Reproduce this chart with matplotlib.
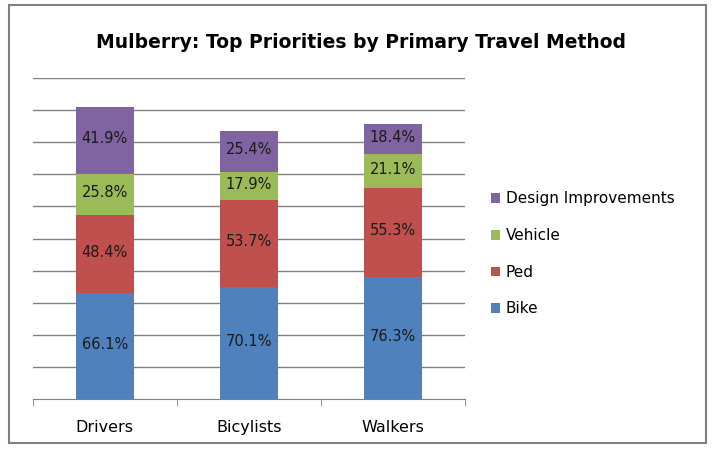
import matplotlib.pyplot as plt
import numpy as np
from matplotlib.patches import Rectangle

# travel method groups and the share picking each priority (%)
groups = ['Drivers', 'Bicylists', 'Walkers']
bike = [66.1, 70.1, 76.3]
ped = [48.4, 53.7, 55.3]
vehicle = [25.8, 17.9, 21.1]
design = [41.9, 25.4, 18.4]

series = [('Bike', bike, '#4F81BD'),
          ('Ped', ped, '#C0504D'),
          ('Vehicle', vehicle, '#9BBB59'),
          ('Design Improvements', design, '#8064A2')]

plt.rcParams['font.family'] = ['DejaVu Sans']

fig = plt.figure(figsize=(7.15, 4.51), dpi=100)
ax = fig.add_axes([0.046, 0.115, 0.604, 0.712])

x = np.arange(len(groups))
bottom = np.zeros(len(groups))
bars = []
for name, vals, col in series:
    b = ax.bar(x, vals, 0.4, bottom=bottom, color=col, label=name, zorder=3)
    for xi, v, b0 in zip(x, vals, bottom):
        ax.text(xi, b0 + v / 2 + 1, '{:.1f}%'.format(v), ha='center', va='center',
                fontsize=10.5, color='#1a1a1a', zorder=4)
    bottom += np.array(vals)
    bars.append(b)

ax.set_ylim(0, 200)
ax.set_xlim(-0.5, 2.5)
ax.set_yticks(np.arange(20, 201, 20))
ax.yaxis.grid(True, color='#808080', linewidth=1.0, zorder=0)
ax.tick_params(axis='y', length=0, labelleft=False)
ax.set_xticks(x)
ax.set_xticklabels(groups, fontsize=11.5)
ax.set_xticks([-0.5, 0.5, 1.5, 2.5], minor=True)
ax.tick_params(axis='x', which='major', length=0, pad=15)
ax.tick_params(axis='x', which='minor', length=5, color='#808080', direction='out')
for s in ['top', 'right', 'left']:
    ax.spines[s].set_visible(False)
ax.spines['bottom'].set_color('#808080')

handles = bars[::-1]
labels = [s[0] for s in series][::-1]
fig.legend(handles, labels, loc='center left', bbox_to_anchor=(0.667, 0.437),
           frameon=False, fontsize=11, handlelength=0.6, handleheight=0.6,
           handletextpad=0.4, labelspacing=1.42)

fig.text(0.505, 0.905, 'Mulberry: Top Priorities by Primary Travel Method',
         ha='center', va='center', fontsize=13.5, fontweight='bold')

# chart border
fig.patches.append(Rectangle((0.013, 0.018), 0.974, 0.97, transform=fig.transFigure,
                             fill=False, edgecolor='#7f7f7f', linewidth=1.5))

fig.savefig('out.png', dpi=100)
